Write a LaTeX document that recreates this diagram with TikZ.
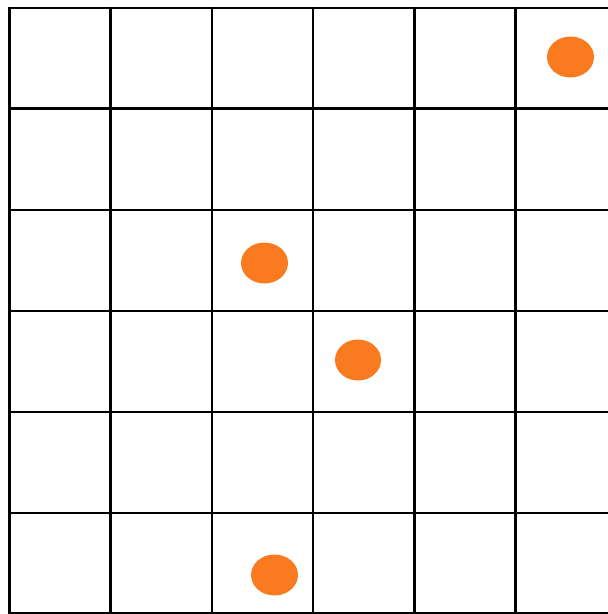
\documentclass[tikz,border=0pt]{standalone}
\definecolor{dotorange}{RGB}{250,122,32}
\tikzset{gridline/.style={line width=2.4pt,black},
  dot/.style={fill=dotorange,draw=none}}
\begin{document}
\begin{tikzpicture}[x=1pt,y=-1pt]
\useasboundingbox (0,0) rectangle (608,614);
\fill[white] (0,0) rectangle (608,614);
\begin{scope}
\clip (0,0) rectangle (608,614);
\foreach \x in {9.5,110.5,212,313,414.5,515.5}
  \draw[gridline] (\x,6.8) -- (\x,620);
\foreach \y in {8,108.5,210,311,412,513,613.5}
  \draw[gridline] (8.3,\y) -- (620,\y);
\end{scope}
\fill[dot] (570.5,57) ellipse [x radius=23.5, y radius=20.5];
\fill[dot] (264.5,263) ellipse [x radius=23.5, y radius=20.5];
\fill[dot] (358,360) ellipse [x radius=23, y radius=20.5];
\fill[dot] (274.5,575) ellipse [x radius=23.5, y radius=20.5];
\end{tikzpicture}
\end{document}
